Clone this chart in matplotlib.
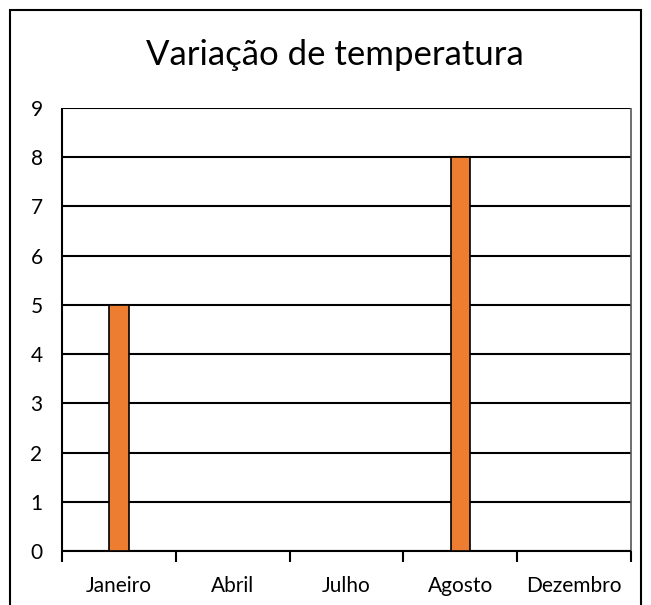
import matplotlib.pyplot as plt
from matplotlib.patches import Rectangle

meses = ['Janeiro', 'Abril', 'Julho', 'Agosto', 'Dezembro']
temperaturas = [5, 0, 0, 8, 0]

plt.rcParams['font.family'] = ['Lato', 'DejaVu Sans']

W, H = 651, 605
fig = plt.figure(figsize=(W / 100, H / 100), dpi=100)
ax = fig.add_axes([62 / W, 1 - 551 / H, (631 - 62) / W, (551 - 108) / H])

x = range(len(meses))
ax.bar(x, temperaturas, width=0.17, color='#ED7D31', edgecolor='black', linewidth=1.2, zorder=3)

ax.set_xlim(-0.5, len(meses) - 0.5)
ax.set_ylim(0, 9)
ax.set_yticks(range(10))
ax.yaxis.grid(True, color='black', linewidth=1.5, zorder=0)
ax.tick_params(axis='y', length=0, labelsize=15, pad=14)
ax.set_xticks(list(x))
ax.set_xticklabels(meses)
ax.set_xticks([i - 0.5 for i in range(len(meses) + 1)], minor=True)
ax.tick_params(axis='x', which='major', length=0, labelsize=15, pad=18)
ax.tick_params(axis='x', which='minor', length=8, width=1.5, color='black', direction='out')

for s in ['left', 'bottom']:
    ax.spines[s].set_linewidth(1.5)
    ax.spines[s].set_capstyle('butt')
ax.spines['top'].set_visible(False)
ax.spines['right'].set_color('#555555')
ax.spines['right'].set_linewidth(1.2)
ax.spines['right'].set_capstyle('butt')

fig.text(335 / W, 1 - 55 / H, 'Variação de temperatura', fontsize=25, ha='center', va='center')

fig.patches.append(Rectangle((10 / W, -0.05), (641 - 10) / W, 1 - 10 / H + 0.05,
                             transform=fig.transFigure, fill=False,
                             edgecolor='black', linewidth=1.5))

fig.savefig('out.png', dpi=100)
